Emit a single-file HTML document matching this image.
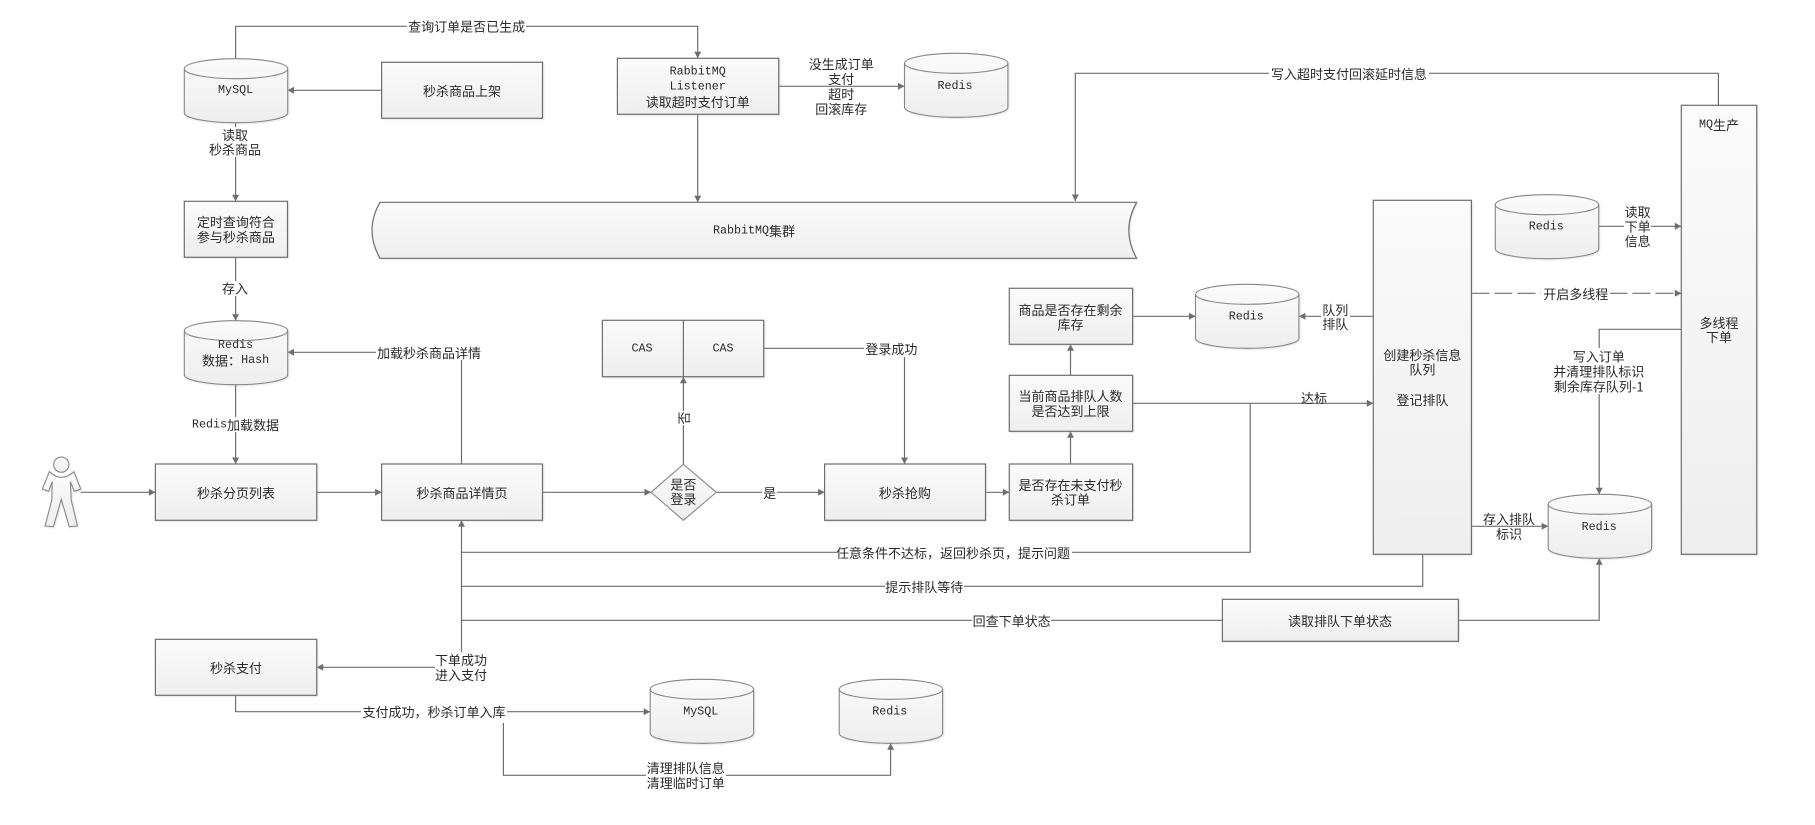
<!DOCTYPE html>
<html lang="zh-CN">
<head>
<meta charset="utf-8">
<title>秒杀流程图</title>
<style>
html,body{margin:0;padding:0;background:#fff;width:1815px;height:825px;overflow:hidden}
svg{display:block}
text{font-family:"WenQuanYi Zen Hei","Noto Sans CJK SC",sans-serif;font-size:13px;fill:#2a2a2a;text-anchor:middle;dominant-baseline:central}
.m{font-family:"Liberation Mono",monospace;font-size:11.7px}
.b{fill:url(#g);stroke:#6e6e6e;stroke-width:1.2;filter:url(#s)}
.l{fill:none;stroke:#6e6e6e;stroke-width:1.2}
.a{marker-end:url(#ah)}
.w{fill:#fff;stroke:none}
</style>
</head>
<body>
<svg width="1815" height="825" viewBox="0 0 1815 825" xmlns="http://www.w3.org/2000/svg">
<defs>
<linearGradient id="g" x1="0" y1="0" x2="0" y2="1"><stop offset="0" stop-color="#fbfbfb"/><stop offset="1" stop-color="#eeeeee"/></linearGradient>
<filter id="s" x="-5%" y="-5%" width="112%" height="112%"><feDropShadow dx="1" dy="1" stdDeviation="0.8" flood-color="#aaa" flood-opacity=".3"/></filter>
<marker id="ah" markerUnits="userSpaceOnUse" markerWidth="8" markerHeight="8" refX="7" refY="4" orient="auto"><path d="M0.5,0.5 L7,4 L0.5,7.5 Z" fill="#6e6e6e"/></marker>
<g id="cyl">
<path d="M0,10 A51.7,10 0 0 1 103.4,10 V54 A51.7,10 0 0 1 0,54 Z" fill="url(#g)" stroke="#858585" stroke-width="1.1" filter="url(#s)"/>
<path d="M0,10 A51.7,10 0 0 0 103.4,10" fill="none" stroke="#858585" stroke-width="1.1"/>
</g>
</defs>

<!-- connectors -->
<path class="l a" d="M235.6,58.7 V26.3 H697.7 V58.3"/>
<path class="l a" d="M381.6,90.3 H287.5"/>
<path class="l a" d="M235.6,122.3 V201.3"/>
<path class="l a" d="M235.6,257.3 V320.7"/>
<path class="l a" d="M235.6,384.3 V464"/>
<path class="l a" d="M461.5,464 V352.3 H287.5"/>
<path class="l a" d="M778.7,86.3 H904.5"/>
<path class="l a" d="M697.7,114.3 V202.3"/>
<path class="l a" d="M1718.4,105.3 V73.3 H1075.3 V201"/>
<path class="l a" d="M1598.8,226.3 H1681.3"/>
<path class="l a" d="M1471.4,293.3 H1681.3" stroke-dasharray="18 5"/>
<path class="l a" d="M1373.3,316.3 H1298.9"/>
<path class="l a" d="M1132.6,316.3 H1195.5"/>
<path class="l a" d="M1681.3,329.3 H1599.2 V494.3"/>
<path class="l a" d="M1471.4,526.3 H1548.2"/>
<path class="l a" d="M1132.6,403.3 H1373.3"/>
<path class="l a" d="M1250.2,403.3 V552.3 H461.5 V520.3"/>
<path class="l" d="M1422.7,554.3 V586.3 H461.5"/>
<path class="l" d="M1222.4,620.3 H461.5"/>
<path class="l a" d="M461.5,552.3 V667.3 H316.7"/>
<path class="l a" d="M1458.4,620.3 H1599.2 V558.3"/>
<path class="l a" d="M80.7,492.3 H155.4"/>
<path class="l a" d="M316.7,492.3 H381.6"/>
<path class="l a" d="M542.5,492.3 H651"/>
<path class="l a" d="M716.3,492.3 H824.6"/>
<path class="l a" d="M985.5,492.3 H1009.3"/>
<path class="l a" d="M1070.5,464 V431.3"/>
<path class="l a" d="M1070.5,375.3 V344.3"/>
<path class="l a" d="M683.4,464.3 V376.7"/>
<path class="l a" d="M763.7,348.3 H904.5 V464"/>
<path class="l a" d="M235.6,695.3 V711.7 H650.2"/>
<path class="l a" d="M503.4,711.7 V775.3 H890.6 V743.3"/>

<!-- label backgrounds -->
<rect class="w" x="407" y="18" width="119" height="16"/>
<rect class="w" x="207" y="127" width="56" height="30"/>
<rect class="w" x="221" y="281" width="29" height="15"/>
<rect class="w" x="192" y="417" width="88" height="15"/>
<rect class="w" x="376" y="344" width="107" height="16"/>
<rect class="w" x="435" y="652" width="53" height="31"/>
<rect class="w" x="361" y="704" width="146" height="19"/>
<rect class="w" x="676" y="411" width="15" height="14"/>
<rect class="w" x="762" y="485" width="15" height="15"/>
<rect class="w" x="864" y="341" width="55" height="16"/>
<rect class="w" x="1269" y="66" width="160" height="15"/>
<rect class="w" x="1321" y="302" width="29" height="30"/>
<rect class="w" x="1624" y="204" width="27" height="45"/>
<rect class="w" x="1553" y="348" width="92" height="46"/>
<rect class="w" x="1541" y="286" width="69" height="15"/>
<rect class="w" x="836" y="545" width="236" height="15"/>
<rect class="w" x="885" y="579" width="79" height="15"/>
<rect class="w" x="972" y="613" width="79" height="15"/>
<rect class="w" x="646" y="760" width="80" height="30"/>

<!-- boxes -->
<rect class="b" x="381.6" y="62.3" width="160.9" height="56"/>
<rect class="b" x="184.3" y="201.3" width="103.2" height="56"/>
<rect class="b" x="617.4" y="58.3" width="161.3" height="56"/>
<rect class="b" x="602.4" y="320.3" width="161.3" height="56.4"/>
<path class="l" d="M683.4,320.3 V376.7"/>
<rect class="b" x="155.4" y="464" width="161.3" height="56.3"/>
<rect class="b" x="381.6" y="464" width="160.9" height="56.3"/>
<rect class="b" x="824.6" y="464" width="160.9" height="56.3"/>
<rect class="b" x="1009.3" y="464" width="123.3" height="56.3"/>
<rect class="b" x="1009.3" y="375.3" width="123.3" height="56"/>
<rect class="b" x="1009.3" y="288.3" width="123.3" height="56"/>
<rect class="b" x="155.4" y="639.3" width="161.3" height="56"/>
<rect class="b" x="1222.4" y="599.3" width="236" height="42"/>
<rect class="b" x="1373.3" y="200.3" width="98.1" height="354"/>
<rect class="b" x="1681.3" y="105.3" width="75.4" height="449"/>
<path class="b" d="M380,202.3 H1136.6 Q1121,230.3 1136.6,258.3 H380 Q364,230.3 380,202.3 Z"/>
<path d="M683.4,464.3 L716.3,492.3 L683.4,520.3 L651,492.3 Z" fill="url(#g)" stroke="#909090" stroke-width="1.2"/>

<!-- cylinders -->
<use href="#cyl" x="184.3" y="58.7"/>
<use href="#cyl" x="184.3" y="320.7"/>
<use href="#cyl" x="904.5" y="53.3"/>
<use href="#cyl" x="1495.3" y="194.7"/>
<use href="#cyl" x="1195.5" y="284.3"/>
<use href="#cyl" x="1548.2" y="494.3"/>
<use href="#cyl" x="650.2" y="679.3"/>
<use href="#cyl" x="839.2" y="679.3"/>

<!-- person -->
<circle cx="61.3" cy="464.7" r="7.6" fill="url(#g)" stroke="#888" stroke-width="1.1"/>
<path d="M49.4,471.7 L42.3,489 L48.6,491.3 L52.2,481.7 L51.8,500 L45,526 L53.4,526.7 L61.3,499.3 L69.2,526.7 L77.5,526 L71.2,500 L70.4,481.7 L74.3,491.3 L80.7,489 L73.9,471.7 Q61.3,483 49.4,471.7 Z" fill="url(#g)" stroke="#888" stroke-width="1.1" filter="url(#s)"/>

<!-- text -->
<text x="466.6" y="26">查询订单是否已生成</text>
<text class="m" x="235.6" y="90">MySQL</text>
<text x="462" y="90.3">秒杀商品上架</text>
<text x="235" y="134.5">读取</text>
<text x="235" y="149.2">秒杀商品</text>
<text x="235.9" y="221.7">定时查询符合</text>
<text x="235.9" y="236.5">参与秒杀商品</text>
<text x="235" y="288">存入</text>
<text class="m" x="235.6" y="345">Redis</text>
<text x="235.6" y="360">数据：<tspan class="m">Hash</tspan></text>
<text x="429" y="352.3">加载秒杀商品详情</text>
<text x="235.5" y="424.3"><tspan class="m">Redis</tspan>加载数据</text>
<text class="m" x="697.7" y="71.7">RabbitMQ</text>
<text class="m" x="697.7" y="86.7">Listener</text>
<text x="697.7" y="101.3">读取超时支付订单</text>
<text x="841.2" y="63.3">没生成订单</text>
<text x="841.2" y="78.7">支付</text>
<text x="841.2" y="93.3">超时</text>
<text x="841.2" y="108.3">回滚库存</text>
<text class="m" x="955" y="86">Redis</text>
<text x="1349" y="73.3">写入超时支付回滚延时信息</text>
<text x="754" y="230.7"><tspan class="m">RabbitMQ</tspan>集群</text>
<text x="1719" y="124.5"><tspan class="m">MQ</tspan>生产</text>
<text x="1719" y="322.3">多线程</text>
<text x="1719" y="336.7">下单</text>
<text class="m" x="1546.3" y="226.7">Redis</text>
<text x="1637.6" y="211.3">读取</text>
<text x="1637.6" y="226">下单</text>
<text x="1637.6" y="240.7">信息</text>
<text x="1575.7" y="293.3">开启多线程</text>
<text x="1598.8" y="356">写入订单</text>
<text x="1598.8" y="371">并清理排队标识</text>
<text x="1598.8" y="386">剩余库存队列-1</text>
<text x="1422.4" y="354.3">创建秒杀信息</text>
<text x="1422.4" y="369">队列</text>
<text x="1422.4" y="399.3">登记排队</text>
<text class="m" x="1246.3" y="316.7">Redis</text>
<text x="1335.3" y="309.3">队列</text>
<text x="1335.3" y="323.7">排队</text>
<text x="1070.5" y="309.7">商品是否存在剩余</text>
<text x="1070.5" y="324">库存</text>
<text x="1070.5" y="395.7">当前商品排队人数</text>
<text x="1070.5" y="410.7">是否达到上限</text>
<text x="1070.5" y="484.3">是否存在未支付秒</text>
<text x="1070.5" y="499">杀订单</text>
<text x="1314" y="397.3">达标</text>
<text class="m" x="642" y="348.3">CAS</text>
<text class="m" x="723" y="348.3">CAS</text>
<text x="891.4" y="348.3">登录成功</text>
<text x="683.4" y="418" transform="rotate(-90 683.4 418)">否</text>
<text x="683.4" y="484">是否</text>
<text x="683.4" y="498.7">登录</text>
<text x="769.6" y="492.3">是</text>
<text x="236" y="492.3">秒杀分页列表</text>
<text x="462" y="492.3">秒杀商品详情页</text>
<text x="904.9" y="492.3">秒杀抢购</text>
<text x="1509" y="518.3">存入排队</text>
<text x="1509" y="533.3">标识</text>
<text class="m" x="1599.2" y="527">Redis</text>
<text x="953" y="552.3">任意条件不达标，返回秒杀页，提示问题</text>
<text x="924.2" y="586.3">提示排队等待</text>
<text x="1011.6" y="620.3">回查下单状态</text>
<text x="1340" y="620.3">读取排队下单状态</text>
<text x="461" y="659.7">下单成功</text>
<text x="461" y="674.7">进入支付</text>
<text x="236" y="667.3">秒杀支付</text>
<text x="434" y="711.7">支付成功，秒杀订单入库</text>
<text class="m" x="700.8" y="711.7">MySQL</text>
<text class="m" x="889.8" y="711.7">Redis</text>
<text x="685.8" y="767.3">清理排队信息</text>
<text x="685.8" y="782.3">清理临时订单</text>
</svg>
</body>
</html>
